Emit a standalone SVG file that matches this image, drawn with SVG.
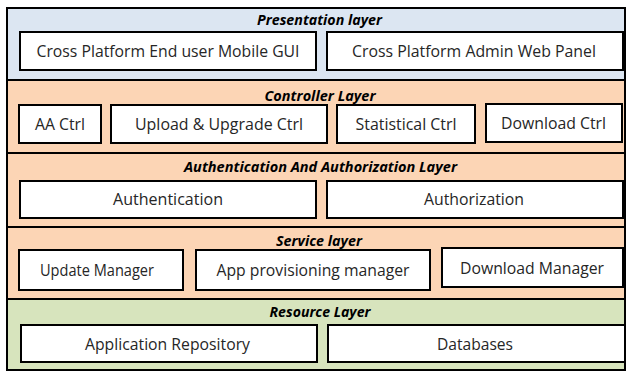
<svg xmlns="http://www.w3.org/2000/svg" width="627" height="372" viewBox="0 0 627 372">
  <style>
    .layer { stroke: #000; stroke-width: 2; }
    .blue { fill: #dce6f2; }
    .peach { fill: #fcd5b5; }
    .green { fill: #d7e4bd; }
    .box { fill: #fff; stroke: #000; stroke-width: 2; }
    .title { font-family: "Open Sans", "Liberation Sans", sans-serif; font-size: 14px; font-weight: bold; font-style: italic; fill: #000; text-anchor: middle; }
    .label { font-family: "Open Sans", "Liberation Sans", sans-serif; font-size: 17px; fill: #262626; text-anchor: middle; }
  </style>

  <rect width="627" height="372" fill="#fff"/>

  <!-- Presentation layer -->
  <g id="presentation-layer">
    <rect class="layer blue" x="7" y="8" width="618" height="72"/>
    <text class="title" x="319.5" y="25" textLength="125" lengthAdjust="spacingAndGlyphs">Presentation layer</text>
  </g>
  <g id="mobile-gui">
    <rect class="box" x="20" y="32" width="296" height="38"/>
    <text class="label" x="168" y="57" textLength="263" lengthAdjust="spacingAndGlyphs">Cross Platform End user Mobile GUI</text>
  </g>
  <g id="admin-web-panel">
    <rect class="box" x="327" y="32" width="296" height="38"/>
    <text class="label" x="474" y="57" textLength="244" lengthAdjust="spacingAndGlyphs">Cross Platform Admin Web Panel</text>
  </g>

  <!-- Controller layer -->
  <g id="controller-layer">
    <rect class="layer peach" x="7" y="80" width="618" height="73"/>
    <text class="title" x="320" y="101" textLength="111" lengthAdjust="spacingAndGlyphs">Controller Layer</text>
  </g>
  <g id="aa-ctrl">
    <rect class="box" x="19" y="105" width="82" height="38"/>
    <text class="label" x="60" y="130" textLength="50" lengthAdjust="spacingAndGlyphs">AA Ctrl</text>
  </g>
  <g id="upload-upgrade-ctrl">
    <rect class="box" x="111" y="105" width="216" height="38"/>
    <text class="label" x="219" y="130" textLength="168" lengthAdjust="spacingAndGlyphs">Upload &amp; Upgrade Ctrl</text>
  </g>
  <g id="statistical-ctrl">
    <rect class="box" x="337" y="105" width="138" height="38"/>
    <text class="label" x="406" y="130" textLength="101" lengthAdjust="spacingAndGlyphs">Statistical Ctrl</text>
  </g>
  <g id="download-ctrl">
    <rect class="box" x="486" y="104" width="136" height="38"/>
    <text class="label" x="553.5" y="129" textLength="105" lengthAdjust="spacingAndGlyphs">Download Ctrl</text>
  </g>

  <!-- Authentication and authorization layer -->
  <g id="auth-layer">
    <rect class="layer peach" x="7" y="153" width="618" height="74"/>
    <text class="title" x="320.5" y="172" textLength="273" lengthAdjust="spacingAndGlyphs">Authentication And Authorization Layer</text>
  </g>
  <g id="authentication">
    <rect class="box" x="20" y="181" width="296" height="37"/>
    <text class="label" x="168" y="205" textLength="110" lengthAdjust="spacingAndGlyphs">Authentication</text>
  </g>
  <g id="authorization">
    <rect class="box" x="327" y="181" width="296" height="37"/>
    <text class="label" x="474" y="205" textLength="100" lengthAdjust="spacingAndGlyphs">Authorization</text>
  </g>

  <!-- Service layer -->
  <g id="service-layer">
    <rect class="layer peach" x="7" y="227" width="618" height="72"/>
    <text class="title" x="319" y="246" textLength="86" lengthAdjust="spacingAndGlyphs">Service layer</text>
  </g>
  <g id="update-manager">
    <rect class="box" x="19" y="250" width="164" height="40"/>
    <text class="label" x="97" y="276" textLength="114" lengthAdjust="spacingAndGlyphs">Update Manager</text>
  </g>
  <g id="app-provisioning-manager">
    <rect class="box" x="196" y="250" width="234" height="40"/>
    <text class="label" x="313" y="276" textLength="193" lengthAdjust="spacingAndGlyphs">App provisioning manager</text>
  </g>
  <g id="download-manager">
    <rect class="box" x="442" y="248" width="181" height="39"/>
    <text class="label" x="532" y="274" textLength="144" lengthAdjust="spacingAndGlyphs">Download Manager</text>
  </g>

  <!-- Resource layer -->
  <g id="resource-layer">
    <rect class="layer green" x="7" y="299" width="618" height="71"/>
    <text class="title" x="320" y="317" textLength="101" lengthAdjust="spacingAndGlyphs">Resource Layer</text>
  </g>
  <g id="application-repository">
    <rect class="box" x="21" y="325" width="296" height="37"/>
    <text class="label" x="167.5" y="350" textLength="165" lengthAdjust="spacingAndGlyphs">Application Repository</text>
  </g>
  <g id="databases">
    <rect class="box" x="328" y="325" width="297" height="37"/>
    <text class="label" x="475" y="350" textLength="76" lengthAdjust="spacingAndGlyphs">Databases</text>
  </g>

  <g id="connectors"/>
</svg>
